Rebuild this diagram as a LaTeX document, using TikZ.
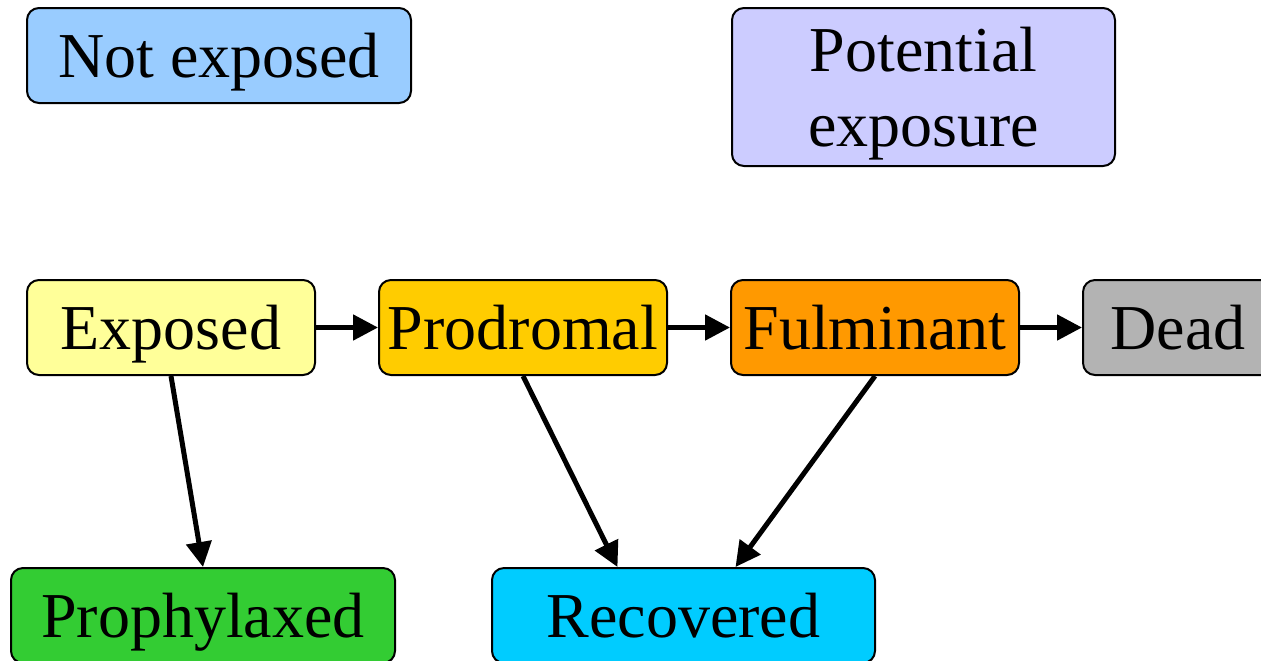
\documentclass[tikz,border=0pt]{standalone}
\usepackage{fontspec}
\setmainfont{Liberation Serif}
\usepackage{xcolor}
\usepackage{tikz}
\usetikzlibrary{shapes,arrows.meta,positioning}

\definecolor{notexpcol}{HTML}{99CCFF}
\definecolor{potexpcol}{HTML}{CCCCFF}
\definecolor{exposedcol}{HTML}{FFFF99}
\definecolor{prodromalcol}{HTML}{FFCC00}
\definecolor{fulminantcol}{HTML}{FF9900}
\definecolor{deadcol}{HTML}{B3B3B3}
\definecolor{prophylcol}{HTML}{33CC33}
\definecolor{recoveredcol}{HTML}{00CCFF}

\begin{document}
\begin{tikzpicture}[
    node distance=31pt,
    state/.style={rectangle, draw=black, line width=1pt, rounded corners=6pt, minimum height=47.5pt, inner sep=0pt, align=center, font=\fontsize{32}{37.5}\selectfont},
    onerow/.style={state, text height=30pt, text depth=8pt},
    small/.style={onerow, minimum width=144pt},
    wide/.style={onerow, minimum width=192pt},
    arrow/.style={-{Triangle[length=12.5pt,width=12.5pt]}, line width=2.5pt}
]
\useasboundingbox (0,0) rectangle (630.5pt,-330pt);
\clip (0,0) rectangle (630.5pt,-330pt);

% Top row
\node [wide, fill=notexpcol] (notexp) at (109.5pt,-27.75pt) {Not exposed};
\node [state, fill=potexpcol, minimum width=191.5pt, minimum height=79pt, text height=66pt, text depth=7pt] (potexp) at (461.75pt,-43.5pt) {Potential\\exposure};

% Disease chain
\node [small, fill=exposedcol] (exposed) at (85.5pt,-163.75pt) {Exposed};
\node [small, fill=prodromalcol, right=of exposed] (prodromal) {Prodromal};
\node [small, fill=fulminantcol, right=of prodromal] (fulminant) {Fulminant};
\node [onerow, fill=deadcol, minimum width=95pt, right=of fulminant] (dead) {Dead};

% Outcomes
\node [wide, fill=prophylcol] (prophyl) at (101.5pt,-307.75pt) {Prophylaxed};
\node [wide, fill=recoveredcol, minimum width=191.5pt] (recovered) at (341.75pt,-307.75pt) {Recovered};

% Arrows
\draw [arrow] (exposed) -- (prodromal);
\draw [arrow] (prodromal) -- (fulminant);
\draw [arrow] (fulminant) -- (dead);
\draw [arrow] (exposed.south) -- (prophyl.north);
\draw [arrow] (prodromal.south) -- ([xshift=-33pt]recovered.north);
\draw [arrow] (fulminant.south) -- ([xshift=26pt]recovered.north);

\end{tikzpicture}
\end{document}
